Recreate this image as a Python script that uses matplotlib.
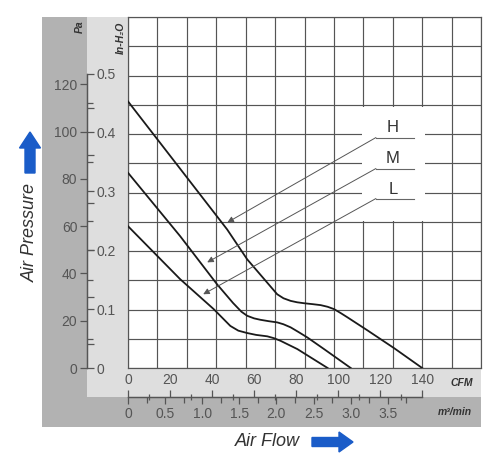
import numpy as np
import matplotlib.pyplot as plt
from matplotlib.patches import Rectangle, FancyArrow

plt.rcParams['font.family'] = ['Liberation Sans', 'DejaVu Sans']

# fan curves: air flow (CFM) vs static pressure (Pa)
h_cfm = [0, 47.2, 56.7, 71, 74, 77.4, 80.5, 83.8, 88, 91.7, 95, 98.1, 101.3, 104.5, 114, 126.8, 140]
h_pa = [112.8, 58.6, 46, 31.2, 29.5, 28.4, 27.8, 27.4, 27.0, 26.6, 25.9, 24.9, 23.2, 21.4, 15.9, 8.3, 0]

m_cfm = [0, 24.8, 42.4, 50, 54, 56.7, 60, 63, 67, 71, 74, 77.4, 81, 85.4, 93.3, 106]
m_pa = [82.6, 55.8, 35.4, 27.5, 23.8, 22.1, 21, 20.4, 19.8, 19.3, 18.5, 17.2, 15.3, 12.9, 8, 0]

l_cfm = [0, 24.8, 40.8, 48.7, 52.5, 56.7, 61, 66.3, 69.5, 72.6, 80.6, 95]
l_pa = [60, 37.6, 24.9, 17.8, 15.8, 14.8, 14, 13.4, 12.6, 11.5, 8, 0]

# speed labels and where their leader arrows point
speed_names = ['H', 'M', 'L']
label_pa = [101.7, 88.6, 75.5]
underline_pa = [97.5, 84.4, 71.7]
tip_cfm = [47.3, 37.7, 35.8]
tip_pa = [61.6, 44.7, 31.2]

# axis ticks
pa_ticks = [0, 20, 40, 60, 80, 100, 120]
inh2o_ticks = [0, 0.1, 0.2, 0.3, 0.4, 0.5]
inh2o_labels = ['0', '0.1', '0.2', '0.3', '0.4', '0.5']
cfm_ticks = [0, 20, 40, 60, 80, 100, 120, 140]
m3_ticks = [0, 0.5, 1.0, 1.5, 2.0, 2.5, 3.0, 3.5]
m3_labels = ['0', '0.5', '1.0', '1.5', '2.0', '2.5', '3.0', '3.5']

PA_PER_INH2O = 249.09
CFM_PER_M3MIN = 35.3147
XMAX = 168.0
YMAX = 148.5

W, H = 500, 472
fig = plt.figure(figsize=(W / 100, H / 100), dpi=100)

# grey backing panels (behind the axes)
fig.patches.append(Rectangle((42 / W, 1 - 427 / H), 439 / W, 410 / H,
                             transform=fig.transFigure, facecolor='#b2b2b2',
                             edgecolor='none', zorder=-2))
fig.patches.append(Rectangle((87 / W, 1 - 397 / H), 394 / W, 380 / H,
                             transform=fig.transFigure, facecolor='#dedede',
                             edgecolor='none', zorder=-1))

rect = [128 / W, 1 - 368 / H, 353 / W, 351 / H]
left_off = -41 / 353
bottom_off = -29 / 351
tick_col = '#555555'

# main grid + curves
ax = fig.add_axes(rect, label='main')
ax.set_xlim(0, XMAX)
ax.set_ylim(0, YMAX)
ax.set_xticks(np.linspace(0, XMAX, 13))
ax.set_yticks(np.linspace(0, YMAX, 13))
ax.tick_params(length=0, labelbottom=False, labelleft=False)
ax.set_axisbelow(True)
ax.grid(True, color='#555555', lw=0.85)
for s in ax.spines.values():
    s.set_color('#555555')
    s.set_linewidth(0.85)

ax.add_patch(Rectangle((111.5, 62), 30, 48.5, facecolor='white', edgecolor='none', zorder=1))

ax.plot(h_cfm, h_pa, color='#1a1a1a', lw=1.3, zorder=3)
ax.plot(m_cfm, m_pa, color='#1a1a1a', lw=1.3, zorder=3)
ax.plot(l_cfm, l_pa, color='#1a1a1a', lw=1.3, zorder=3)

for i in range(len(speed_names)):
    ax.text(126, label_pa[i], speed_names[i], fontsize=12, color='#333333',
            ha='center', va='center', zorder=4)
    ax.plot([118, 136], [underline_pa[i], underline_pa[i]], color='#666666', lw=0.8, zorder=4)
    ax.annotate('', xy=(tip_cfm[i], tip_pa[i]), xytext=(118, underline_pa[i]),
                arrowprops=dict(arrowstyle='-|>', color='#555555', lw=0.7,
                                mutation_scale=9, shrinkA=0, shrinkB=0), zorder=4)

# Pa (left) and CFM (bottom, upper row) scales
axp = fig.add_axes(rect, label='pa_cfm')
axp.patch.set_visible(False)
axp.set_xlim(0, XMAX)
axp.set_ylim(0, YMAX)
axp.spines['right'].set_visible(False)
axp.spines['bottom'].set_visible(False)
axp.spines['left'].set_position(('axes', left_off))
axp.spines['left'].set_bounds(0, 0.5 * PA_PER_INH2O)
axp.spines['top'].set_position(('axes', bottom_off))
axp.spines['top'].set_bounds(0, 140)
for s in ['left', 'top']:
    axp.spines[s].set_color(tick_col)
    axp.spines[s].set_linewidth(0.9)
axp.xaxis.set_ticks_position('top')
axp.set_xticks(cfm_ticks)
axp.set_xticklabels([str(v) for v in cfm_ticks])
axp.set_xticks(np.arange(10, 140, 20), minor=True)
axp.set_yticks(pa_ticks)
axp.set_yticklabels([str(v) for v in pa_ticks])
axp.set_yticks(np.arange(10, 120, 20), minor=True)
axp.tick_params(which='major', direction='out', length=5, width=0.9,
                color=tick_col, labelcolor=tick_col, labelsize=10, pad=2)
axp.tick_params(axis='y', which='minor', direction='in', length=5, width=0.9, color=tick_col)
axp.tick_params(axis='x', which='minor', direction='inout', length=5, width=0.9, color=tick_col)

# in-H2O (left, inner) and m3/min (bottom, lower row) scales
axs = fig.add_axes(rect, label='si')
axs.patch.set_visible(False)
axs.set_xlim(0, XMAX / CFM_PER_M3MIN)
axs.set_ylim(0, YMAX / PA_PER_INH2O)
axs.spines['left'].set_visible(False)
axs.spines['top'].set_visible(False)
axs.spines['right'].set_position(('axes', left_off))
axs.spines['right'].set_bounds(0, 0.5)
axs.spines['bottom'].set_position(('axes', bottom_off))
axs.spines['bottom'].set_bounds(0, 140 / CFM_PER_M3MIN)
for s in ['right', 'bottom']:
    axs.spines[s].set_color(tick_col)
    axs.spines[s].set_linewidth(0.9)
axs.yaxis.set_ticks_position('right')
axs.set_yticks(inh2o_ticks)
axs.set_yticklabels(inh2o_labels)
axs.set_yticks(np.arange(0.05, 0.5, 0.1), minor=True)
axs.set_xticks(m3_ticks)
axs.set_xticklabels(m3_labels)
axs.set_xticks(np.arange(0.25, 4.0, 0.5), minor=True)
axs.tick_params(which='major', direction='out', length=5, width=0.9,
                color=tick_col, labelcolor=tick_col, labelsize=10, pad=2)
axs.tick_params(which='minor', direction='out', length=4, width=0.9, color=tick_col)

# unit labels
unit_kw = dict(fontsize=7.5, fontweight='bold', style='italic', color='#333333',
               ha='center', va='center')
fig.text(80 / W, 1 - 27 / H, 'Pa', rotation=90, **unit_kw)
fig.text(121 / W, 1 - 38 / H, 'In-H\u2082O', rotation=90, **unit_kw)
fig.text(462 / W, 1 - 383 / H, 'CFM', **unit_kw)
fig.text(455 / W, 1 - 412 / H, 'm\u00b3/min', **unit_kw)

# axis titles with blue arrows
fig.text(30 / W, 1 - 232 / H, 'Air Pressure', rotation=90, fontsize=13,
         style='italic', color='#333333', ha='center', va='center')
fig.text(267 / W, 1 - 441 / H, 'Air Flow', fontsize=13,
         style='italic', color='#333333', ha='center', va='center')

blue = '#1a5cc8'
fig.patches.append(FancyArrow(0.30, (H - 173) / 100, 0, 0.41, width=0.10, head_width=0.21,
                              head_length=0.16, length_includes_head=True,
                              transform=fig.dpi_scale_trans, color=blue))
fig.patches.append(FancyArrow(3.12, (H - 442) / 100, 0.41, 0, width=0.09, head_width=0.20,
                              head_length=0.14, length_includes_head=True,
                              transform=fig.dpi_scale_trans, color=blue))

fig.savefig('out.png', dpi=100)
